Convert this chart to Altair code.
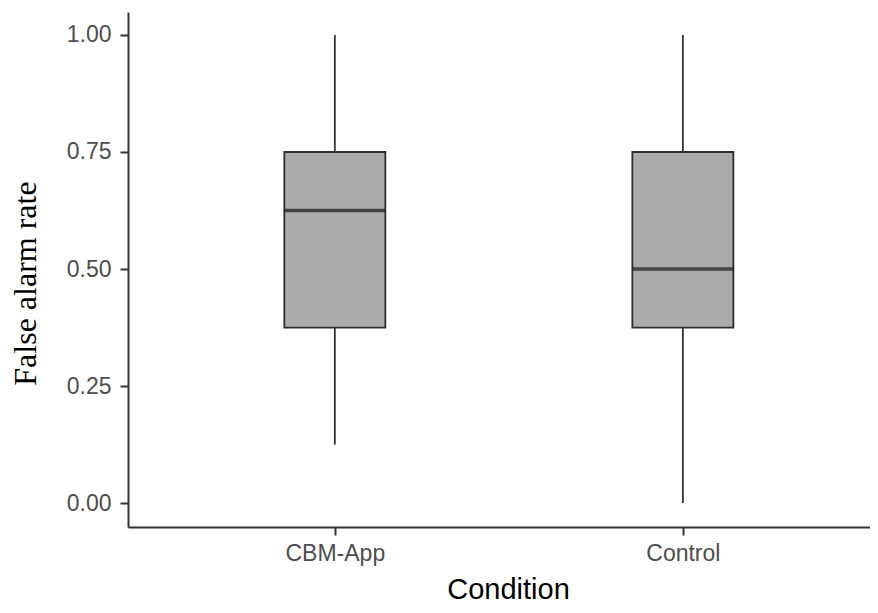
import altair as alt
import pandas as pd

conditions = ["CBM-App", "Control"]
lower = [0.125, 0.0]
q1 = [0.375, 0.375]
median = [0.625, 0.5]
q3 = [0.75, 0.75]
upper = [1.0, 1.0]
y_ticks = [0.0, 0.25, 0.5, 0.75, 1.0]

df = pd.DataFrame({"Condition": conditions, "lower": lower, "q1": q1,
                   "median": median, "q3": q3, "upper": upper})

W, H = 742, 515
xscale = alt.Scale(type="point", domain=conditions, padding=0.566, align=0.525)
yscale = alt.Scale(domain=[-0.051, 1.049], nice=False, zero=False)

x_enc = alt.X("Condition:N", scale=xscale, sort=conditions,
              axis=alt.Axis(title="Condition", labelAngle=0, labelFontSize=23,
                            labelColor="#4D4D4D", labelFont="Liberation Sans",
                            labelPadding=7, tickSize=8, tickColor="#333333",
                            tickWidth=2, domainColor="#333333", domainWidth=2,
                            titleFont="Liberation Sans", titleFontSize=29,
                            titleFontWeight="normal", titleColor="#000000",
                            titleX=380, titleY=71, titleBaseline="alphabetic",
                            titleAlign="center", grid=False))

y_axis = alt.Axis(title="False alarm rate", values=y_ticks, format=".2f",
                  labelFontSize=23, labelColor="#4D4D4D", labelFont="Liberation Sans",
                  labelPadding=9, tickSize=8, tickColor="#333333", tickWidth=2,
                  domainColor="#333333", domainWidth=2,
                  titleFont="Liberation Serif", titleFontSize=32,
                  titleFontWeight="normal", titleColor="#000000",
                  titleX=-103, titleY=271, titleAngle=270,
                  titleBaseline="middle", titleAlign="center", grid=False)

base = alt.Chart(df)

whisk_lo = base.mark_rule(color="#333333", strokeWidth=1.8).encode(
    x=x_enc, y=alt.Y("lower:Q", scale=yscale, axis=y_axis), y2="q1:Q")
whisk_hi = base.mark_rule(color="#333333", strokeWidth=1.8).encode(
    x=x_enc, y=alt.Y("q3:Q", scale=yscale, axis=y_axis), y2="upper:Q")
box = base.mark_bar(size=101, color="#ABABAB", stroke="#2E2E2E",
                    strokeWidth=1.8).encode(
    x=x_enc, y=alt.Y("q1:Q", scale=yscale, axis=y_axis), y2="q3:Q")
med = base.mark_tick(size=101, thickness=3.6, color="#1A1A1A").encode(
    x=x_enc, y=alt.Y("median:Q", scale=yscale, axis=y_axis))

chart = alt.layer(whisk_lo, whisk_hi, box, med).properties(
    width=W, height=H,
    autosize=alt.AutoSizeParams(type="none"),
    padding={"left": 120, "top": 4, "right": 0, "bottom": 78},
    view=alt.ViewBackground(stroke="transparent", strokeWidth=0),
).configure_view(
    strokeWidth=0, stroke="transparent"
).configure_axis(grid=False).configure(background="white")

chart.save("out.html", embed_options={"renderer": "svg", "actions": False})
